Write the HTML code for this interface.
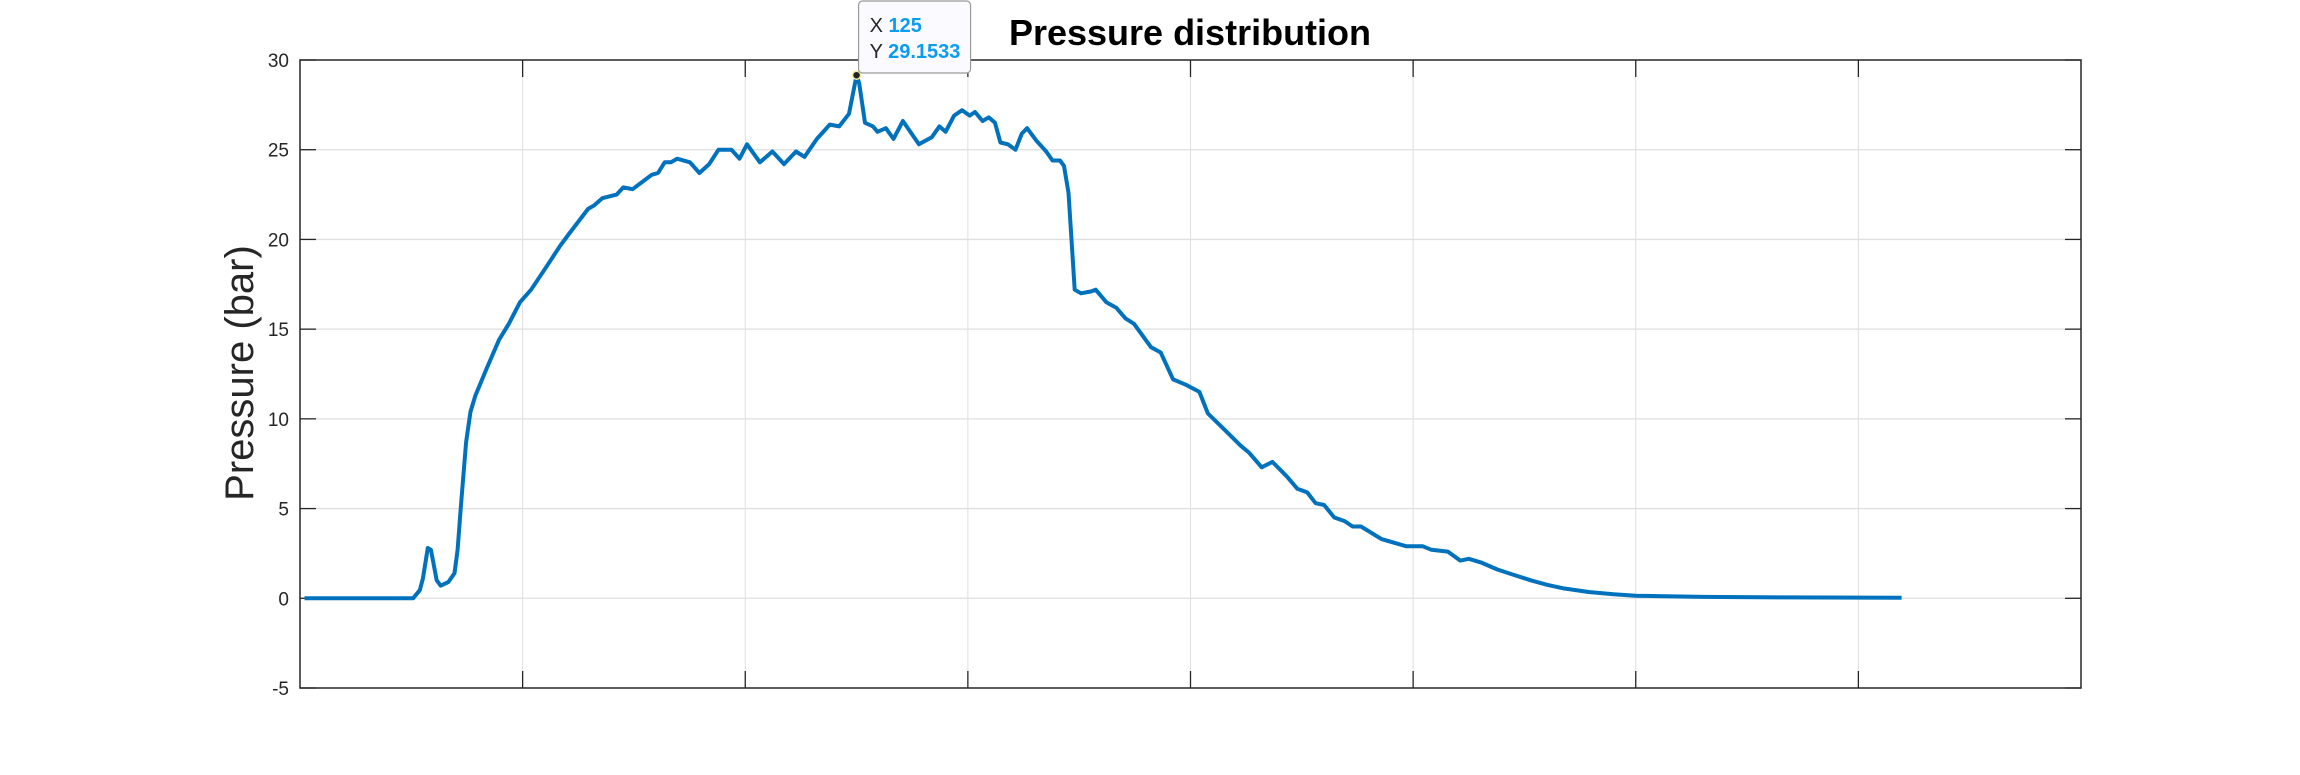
<!DOCTYPE html>
<html><head><meta charset="utf-8"><style>
html,body{margin:0;padding:0;background:#fff;width:2300px;height:775px;overflow:hidden}
svg{display:block;font-family:"Liberation Sans",Arial,sans-serif}
</style></head><body>
<svg id="chart" width="2300" height="775" viewBox="0 0 2300 775" xmlns="http://www.w3.org/2000/svg">
<g id="grid"></g>
<g id="axes"></g>
<g id="series"></g>
<text x="1190" y="45" font-size="36" font-weight="bold" text-anchor="middle" fill="#000">Pressure distribution</text>
<text transform="translate(253,373) rotate(-90)" font-size="40" text-anchor="middle" fill="#262626">Pressure (bar)</text>
<g id="tip"></g>
</svg>
<script>
const xTicks=[0,50,100,150,200,250,300,350,400];
const yTicks=[-5,0,5,10,15,20,25,30];
const yTickLabels=["-5","0","5","10","15","20","25","30"];
const xs=[1,25.4,26.9,27.6,28.7,29.4,30.7,31.6,33.3,34.7,35.4,36.1,37.3,38.3,39.4,40.4,41.9,44.7,46.9,49.4,51.9,55.4,58.3,60.4,64.7,66.1,67.9,71.1,72.6,74.7,79,80.4,81.9,83.3,84.7,87.6,89.7,91.9,94,96.9,98.7,100.4,103.3,106.1,108.7,111.4,113.3,116.1,119,121.1,123.3,125,125.6,126.9,128.7,129.7,131.6,133.3,135.4,139,141.9,143.6,145,146.9,148.7,150.4,151.6,153.3,154.7,156.1,157.3,159,160.7,162.1,163.3,165.4,167.6,169,170.7,171.6,172.6,174,175.4,177.6,178.7,181.1,183.3,185.4,187.3,191.1,193.3,196.1,199,202,203.9,207.2,211.3,213.2,216,218.4,221.6,224,226.2,228.1,230,232.3,234.6,236.4,238.3,242.9,248.5,252.2,254.1,257.8,260.6,262.5,265.2,269,272.7,276.4,280.1,283.8,289.4,295,300,315.4,334,359.7];
const ys=[0,0,0.45,1.1,2.8,2.7,1.0,0.7,0.9,1.4,2.7,5,8.7,10.4,11.3,11.9,12.8,14.4,15.3,16.5,17.2,18.5,19.6,20.3,21.7,21.9,22.3,22.5,22.9,22.8,23.6,23.7,24.3,24.3,24.5,24.3,23.7,24.2,25,25,24.5,25.3,24.3,24.9,24.2,24.9,24.6,25.6,26.4,26.3,27,29.1533,28.7,26.5,26.3,26,26.2,25.6,26.6,25.3,25.7,26.3,26,26.9,27.2,26.9,27.1,26.6,26.8,26.5,25.4,25.3,25,25.9,26.2,25.5,24.9,24.4,24.4,24.1,22.6,17.2,17,17.1,17.2,16.5,16.2,15.6,15.3,14,13.7,12.2,11.9,11.5,10.3,9.5,8.5,8.1,7.3,7.6,6.8,6.1,5.9,5.3,5.2,4.5,4.3,4,4,3.3,2.9,2.9,2.7,2.6,2.1,2.2,2,1.6,1.3,1,0.75,0.55,0.35,0.22,0.14,0.08,0.05,0.03];
const tipX=125, tipY=29.1533;
const L=300,R=2081,T=60,B=688,xMin=0,xMax=400,yMin=-5,yMax=30;
const sx=v=>L+(v-xMin)/(xMax-xMin)*(R-L);
const sy=v=>B-(v-yMin)/(yMax-yMin)*(B-T);
const NS="http://www.w3.org/2000/svg";
function mk(tag,attrs,parent){const e=document.createElementNS(NS,tag);for(const k in attrs)e.setAttribute(k,attrs[k]);parent.appendChild(e);return e;}
const grid=document.getElementById('grid'),axes=document.getElementById('axes'),series=document.getElementById('series'),tip=document.getElementById('tip');
xTicks.forEach(t=>{
  if(t>xMin&&t<xMax){
    const g=mk('line',{x1:sx(t),x2:sx(t),y1:T,y2:B,stroke:'#dfdfdf','stroke-width':1},grid);
    
    
    const a=mk('line',{x1:sx(t),x2:sx(t),y1:B,y2:B-17,stroke:'#262626','stroke-width':1.3},axes);
    
    
    const b=mk('line',{x1:sx(t),x2:sx(t),y1:T,y2:T+17,stroke:'#262626','stroke-width':1.3},axes);
    
    
  }
});
yTicks.forEach((t,i)=>{
  if(t>yMin&&t<yMax){
    const g=mk('line',{x1:L,x2:R,y1:sy(t),y2:sy(t),stroke:'#dfdfdf','stroke-width':1.3},grid);
    
    
  }
  const a=mk('line',{x1:L,x2:L+16,y1:sy(t),y2:sy(t),stroke:'#262626','stroke-width':1.3},axes);
  
  
  const b=mk('line',{x1:R,x2:R-16,y1:sy(t),y2:sy(t),stroke:'#262626','stroke-width':1.3},axes);
  
  
  const tx=mk('text',{x:289,y:sy(t)+7,'font-size':19,'text-anchor':'end',fill:'#262626'},axes);
  tx.textContent=yTickLabels[i];
  
  
});
const box=mk('rect',{x:L,y:T,width:R-L,height:B-T,fill:'none',stroke:'#262626','stroke-width':1.5},axes);


const pts=xs.map((x,i)=>sx(x).toFixed(1)+','+sy(ys[i]).toFixed(1)).join(' ');
const line=mk('polyline',{points:pts,fill:'none',stroke:'#0072BD','stroke-width':4,'stroke-linejoin':'round'},series);


const px=sx(tipX),py=sy(tipY);
const m=mk('circle',{cx:px,cy:py,r:4,fill:'#222',stroke:'#f4e9a0','stroke-width':1.5},tip);


const r=mk('rect',{x:px+2,y:1,width:112,height:72,rx:4,fill:'#fafaff',stroke:'#9a9a9a','stroke-width':1.2},tip);


const t1=mk('text',{x:px+13,y:32,'font-size':20,fill:'#262626'},tip);
t1.innerHTML='X <tspan fill="#0a9cf0" font-weight="bold">'+tipX+'</tspan>';


const t2=mk('text',{x:px+13,y:58,'font-size':20,fill:'#262626'},tip);
t2.innerHTML='Y <tspan fill="#0a9cf0" font-weight="bold">'+tipY+'</tspan>';


</script>
</body></html>
